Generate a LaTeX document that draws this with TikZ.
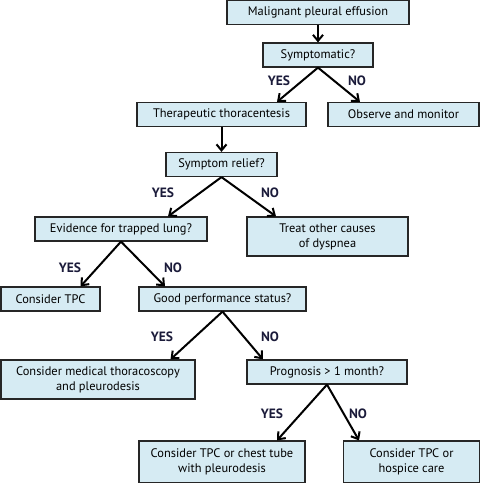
\documentclass[tikz,border=0pt]{standalone}
\usepackage{fontspec}
\setmainfont{PT Sans}
\usetikzlibrary{arrows.meta,positioning,calc}
\definecolor{boxfill}{HTML}{D6EBF3}
\definecolor{lblcol}{HTML}{1B1B3A}
\tikzset{
  blk/.style={draw=black!85, fill=boxfill, line width=1.2pt, minimum height=24pt,
              align=center, inner sep=2pt, font=\fontsize{12.4}{15}\selectfont},
  arr/.style={-{Straight Barb[length=6pt,width=10pt]}, line width=2pt},
  lbl/.style={font=\bfseries\fontsize{13.5}{15}\selectfont, text=lblcol}
}
\begin{document}
\begin{tikzpicture}[x=1pt, y=-1pt]
  \useasboundingbox (0,0) rectangle (480,483);
  % boxes
  \node[blk, minimum width=182pt] (mpe)   at (318,12.5)  {Malignant pleural effusion};
  \node[blk, minimum width=110pt] (sym)   at (318,55)    {Symptomatic?};
  \node[blk, minimum width=169pt] (ther)  at (221.5,114.5) {Therapeutic thoracentesis};
  \node[blk, minimum width=151pt] (obs)   at (403.5,114.5) {Observe and monitor};
  \node[blk, minimum width=111pt] (rel)   at (221.5,164.5) {Symptom relief?};
  \node[blk, minimum width=172pt] (trap)  at (121,229)   {Evidence for trapped lung?};
  \node[blk, minimum width=161pt, minimum height=39pt] (treat) at (327.5,236.5) {Treat other causes\\of dyspnea};
  \node[blk, minimum width=99pt]  (tpc)   at (50.5,299)  {Consider TPC};
  \node[blk, minimum width=167pt] (perf)  at (222.5,299) {Good performance status?};
  \node[blk, minimum width=194pt, minimum height=39pt] (med) at (98,379.5) {Consider medical thoracoscopy\\and pleurodesis};
  \node[blk, minimum width=160pt] (prog)  at (327,372)   {Prognosis > 1 month?};
  \node[blk, minimum width=166pt, minimum height=42pt] (chest) at (222,462) {Consider TPC or chest tube\\with pleurodesis};
  \node[blk, minimum width=136pt, minimum height=42pt] (hosp)  at (411.5,462) {Consider TPC or\\hospice care};

  % connectors
  \draw[arr] (mpe) -- (sym);
  \draw[arr] (sym.south) -- ([xshift=55.5pt]ther.north);
  \draw[arr] (sym.south) -- ([xshift=-43.5pt]obs.north);
  \draw[arr] (ther) -- (rel);
  \draw[arr] (rel.south) -- ([xshift=47pt]trap.north);
  \draw[arr] (rel.south) -- ([xshift=-51.5pt]treat.north);
  \draw[arr] (trap.south) -- ([xshift=30pt]tpc.north);
  \draw[arr] (trap.south) -- ([xshift=-57.5pt]perf.north);
  \draw[arr] (perf.south) -- ([xshift=72.5pt]med.north);
  \draw[arr] (perf.south) -- ([xshift=-64pt]prog.north);
  \draw[arr] (prog.south) -- ([xshift=55pt]chest.north);
  \draw[arr] (prog.south) -- ([xshift=-52.5pt]hosp.north);

  % answers
  \node[lbl] (y1) at (279,81)  {YES};
  \node[lbl] (n1) at (357,81)  {NO};
  \node[lbl] (y2) at (163,193) {YES};
  \node[lbl] (n2) at (270,193) {NO};
  \node[lbl] (y3) at (70,268)  {YES};
  \node[lbl] (n3) at (173,268) {NO};
  \node[lbl] (y4) at (162,337) {YES};
  \node[lbl] (n4) at (270,337) {NO};
  \node[lbl] (y5) at (272,414) {YES};
  \node[lbl] (n5) at (358,414) {NO};
\end{tikzpicture}
\end{document}
